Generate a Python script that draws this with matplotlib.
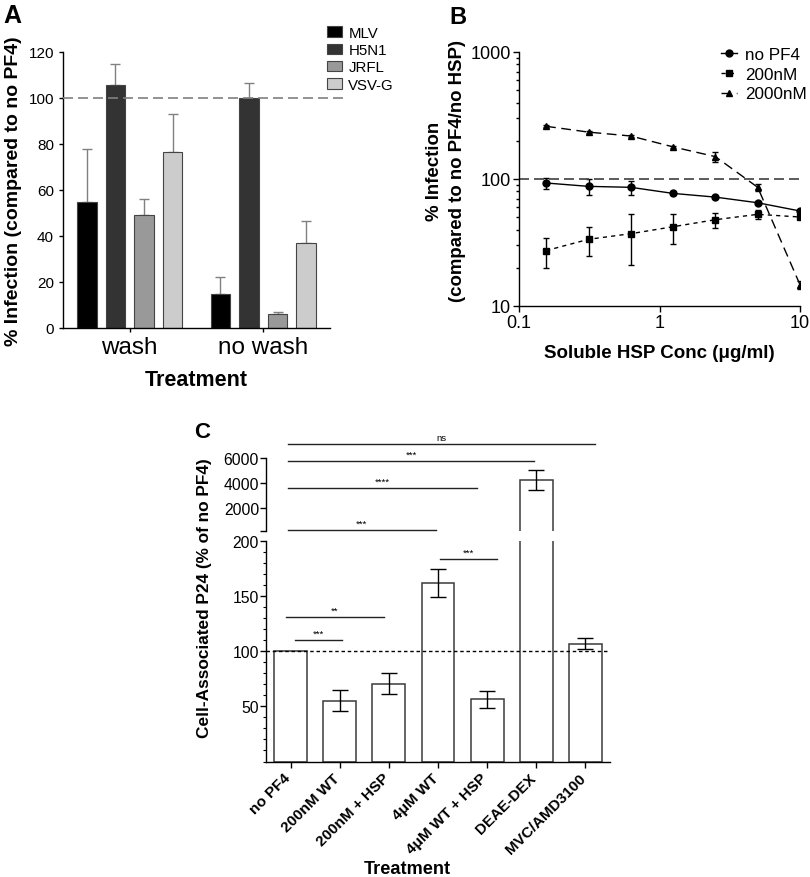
import numpy as np
import matplotlib
matplotlib.use('Agg')
import matplotlib.pyplot as plt
import matplotlib.transforms as mtransforms
from matplotlib.ticker import FixedLocator, MultipleLocator, NullLocator, NullFormatter

plt.rcParams['font.family'] = ['Liberation Sans', 'DejaVu Sans']
plt.rcParams['axes.linewidth'] = 1.0

W, H = 810, 878

# --- panel A data ---
a_groups = ['wash', 'no wash']
a_series = ['MLV', 'H5N1', 'JRFL', 'VSV-G']
a_colors = ['#000000', '#333333', '#999999', '#cccccc']
a_values = [[55, 15], [105.5, 100], [49, 6], [76.5, 37]]
a_errors = [[23, 7], [9.5, 6.5], [7, 1], [16.5, 9.5]]

# --- panel B data ---
b_conc = [0.156, 0.3125, 0.625, 1.25, 2.5, 5, 10]
b_nopf4 = [93, 87.5, 86, 77, 72, 65, 56]
b_nopf4_err = [9, 12, 11, 1.5, 1.5, 1.5, 1.5]
b_200 = [27.3, 33.5, 37.1, 42.1, 47.8, 52.7, 50.2]
b_200_err = [7.3, 8.7, 16, 11.3, 6.6, 4.3, 2]
b_2000 = [260, 234, 218, 179, 150, 86, 14.7]
b_2000_err = [5, 5, 5, 4, 14.5, 5.5, 1]

# --- panel C data ---
c_labels = ['no PF4', '200nM WT', '200nM + HSP', '4μM WT', '4μM WT + HSP',
            'DEAE-DEX', 'MVC/AMD3100']
c_values = [100, 55.2, 70.3, 161.8, 56.4, 4250, 106.7]
c_errors = [0, 9.4, 9.5, 12.5, 7.5, 800, 4.8]
# significance brackets: (start, end, y, text, upper-segment?)
c_sig = [(-0.05, 6.2, 7120, 'ns', True),
         (-0.05, 4.95, 5760, '***', True),
         (-0.05, 3.8, 3600, '****', True),
         (-0.05, 2.95, 240, '***', True),
         (3.05, 4.2, 183.5, '***', False),
         (-0.1, 1.9, 130.7, '**', False),
         (0.1, 1.05, 110, '***', False)]


def px_axes(left, top, right, bottom):
    return fig.add_axes([left / W, 1 - bottom / H, (right - left) / W, (bottom - top) / H])


fig = plt.figure(figsize=(W / 100, H / 100), dpi=100)

# ================= A =================
axA = px_axes(63, 53, 330, 329)
xg = np.arange(len(a_groups))
offs = (np.arange(4) - 1.5) * 0.214
for i, name in enumerate(a_series):
    axA.bar(xg + offs[i], a_values[i], width=0.148, color=a_colors[i],
            edgecolor='#444444', lw=0.8, label=name, zorder=2)
    axA.errorbar(xg + offs[i], a_values[i], yerr=[np.zeros(2), a_errors[i]],
                 fmt='none', ecolor='#808080', elinewidth=1, capsize=3.5, zorder=1)
axA.plot([-0.5, 1.6], [100, 100], ls=(0, (6, 3)), color='#808080', lw=1.2,
         clip_on=False, zorder=3)
axA.set_xlim(-0.5, 1.5)
axA.set_ylim(0, 120)
axA.yaxis.set_major_locator(MultipleLocator(20))
axA.set_xticks(xg)
axA.set_xticklabels(a_groups, fontsize=17.5)
axA.tick_params(axis='y', labelsize=11, length=3, width=1)
axA.tick_params(axis='x', length=3, width=1, pad=3)
for s in ['top', 'right']:
    axA.spines[s].set_visible(False)
axA.set_xlabel('Treatment', fontsize=15.5, fontweight='bold', labelpad=8)
axA.set_ylabel('% Infection (compared to no PF4)', fontsize=14, fontweight='bold', labelpad=5)
axA.legend(loc='upper left', bbox_to_anchor=(0.99, 1.095), frameon=False,
           fontsize=10.8, handlelength=1.0, handleheight=0.7, labelspacing=0.22,
           handletextpad=0.4, borderpad=0, borderaxespad=0)
fig.text(3 / W, 1 - 4 / H, 'A', fontsize=18, fontweight='bold', va='top', ha='left')

# ================= B =================
axB = px_axes(519, 53, 800, 307)
axB.set_xscale('log')
axB.set_yscale('log')
b_series = [(b_nopf4, b_nopf4_err, 'o', '-', 'no PF4'),
            (b_200, b_200_err, 's', (0, (3, 3)), '200nM'),
            (b_2000, b_2000_err, '^', (0, (7, 4)), '2000nM')]
for vals, errs, mk, ls, name in b_series:
    axB.errorbar(b_conc, vals, yerr=errs, fmt='none', ecolor='black',
                 elinewidth=1, capsize=2.5)
    axB.plot(b_conc, vals, marker=mk, ls=ls, color='black', ms=5, lw=1, label=name)
axB.axhline(100, ls=(0, (6, 3)), color='#404040', lw=1.2)
axB.set_xlim(0.1, 10)
axB.set_ylim(10, 1000)
axB.xaxis.set_major_locator(FixedLocator([0.1, 1, 10]))
axB.xaxis.set_minor_locator(NullLocator())
axB.set_xticklabels(['0.1', '1', '10'])
axB.yaxis.set_major_locator(FixedLocator([10, 100, 1000]))
axB.set_yticklabels(['10', '100', '1000'])
axB.yaxis.set_minor_locator(FixedLocator([k * 10 ** d for d in (1, 2) for k in range(2, 10)]))
axB.yaxis.set_minor_formatter(NullFormatter())
axB.tick_params(axis='both', which='major', labelsize=13, length=4, width=1, pad=2)
axB.tick_params(axis='y', which='minor', length=2.5, width=1)
for s in ['top', 'right']:
    axB.spines[s].set_visible(False)
axB.set_xlabel('Soluble HSP Conc (μg/ml)', fontsize=13.5, fontweight='bold', labelpad=9)
fig.text(446 / W, 1 - 171 / H, '% Infection\n(compared to no PF4/no HSP)', rotation=90,
         fontsize=13.4, fontweight='bold', linespacing=1.4, ha='center', va='center')
axB.legend(loc='upper left', bbox_to_anchor=(0.72, 1.02), frameon=False,
           fontsize=12.3, handlelength=0.9, labelspacing=0.28, handletextpad=0.5,
           borderpad=0, borderaxespad=0)
fig.text(449 / W, 1 - 6 / H, 'B', fontsize=17, fontweight='bold', va='top', ha='left')

# ================= C =================
axCu = px_axes(266, 459, 610, 531.5)
axCl = px_axes(266, 541.7, 610, 762.5)
xc = np.arange(len(c_labels))
for ax, lo in ((axCu, 200), (axCl, 0)):
    idx = [i for i, v in enumerate(c_values) if v > lo]
    ax.bar([xc[i] for i in idx], [c_values[i] for i in idx], width=0.67, color='white',
           edgecolor='#3a3a3a', lw=1.1, zorder=1)
    eidx = [i for i in idx if c_errors[i] > 0]
    ax.errorbar([xc[i] for i in eidx], [c_values[i] for i in eidx],
                yerr=[c_errors[i] for i in eidx], fmt='none', ecolor='black',
                elinewidth=1, capsize=6, capthick=1, zorder=3)
    ax.axhline(100, ls=(0, (2.5, 2)), color='black', lw=1, zorder=2)
    ax.set_xlim(-0.5, 6.5)
    for s in ['top', 'right']:
        ax.spines[s].set_visible(False)
axCu.set_ylim(200, 6000)
axCu.spines['bottom'].set_visible(False)
axCu.set_xticks([])
axCu.set_yticks([200, 2000, 4000, 6000])
axCu.set_yticklabels(['', '2000', '4000', '6000'])
axCu.tick_params(axis='y', labelsize=11.3, length=4, width=1, pad=1)

axCl.set_ylim(0, 200)
axCl.set_yticks([50, 100, 150, 200])
axCl.yaxis.set_minor_locator(MultipleLocator(10))
axCl.tick_params(axis='y', labelsize=11.3, length=4, width=1, pad=1)
axCl.tick_params(axis='y', which='minor', length=2, width=0.8)
axCl.set_xticks(xc)
axCl.set_xticklabels(c_labels, rotation=45, ha='right', va='top', rotation_mode='anchor',
                     fontsize=11, fontweight='bold')
axCl.tick_params(axis='x', length=4, width=1, pad=1)
shift = mtransforms.ScaledTranslation(-0.07, -0.02, fig.dpi_scale_trans)
for lbl in axCl.get_xticklabels():
    lbl.set_transform(lbl.get_transform() + shift)
fig.text(407 / W, 1 - 870 / H, 'Treatment', fontsize=13.1, fontweight='bold',
         ha='center', va='center')
fig.text(205 / W, 1 - 598 / H, 'Cell-Associated P24 (% of no PF4)', rotation=90,
         fontsize=12.4, fontweight='bold', ha='center', va='center')

for x0, x1, y, txt, upper in c_sig:
    ax = axCu if upper else axCl
    ax.plot([x0, x1], [y, y], color='#222222', lw=1, clip_on=False, zorder=4)
    ax.annotate(txt, xy=((x0 + x1) / 2, y), xytext=(0, 1.5), textcoords='offset points',
                ha='center', va='bottom', fontsize=6.8, annotation_clip=False)
fig.text(194 / W, 1 - 422 / H, 'C', fontsize=16, fontweight='bold', va='top', ha='left')

fig.savefig('out.png', dpi=100)
